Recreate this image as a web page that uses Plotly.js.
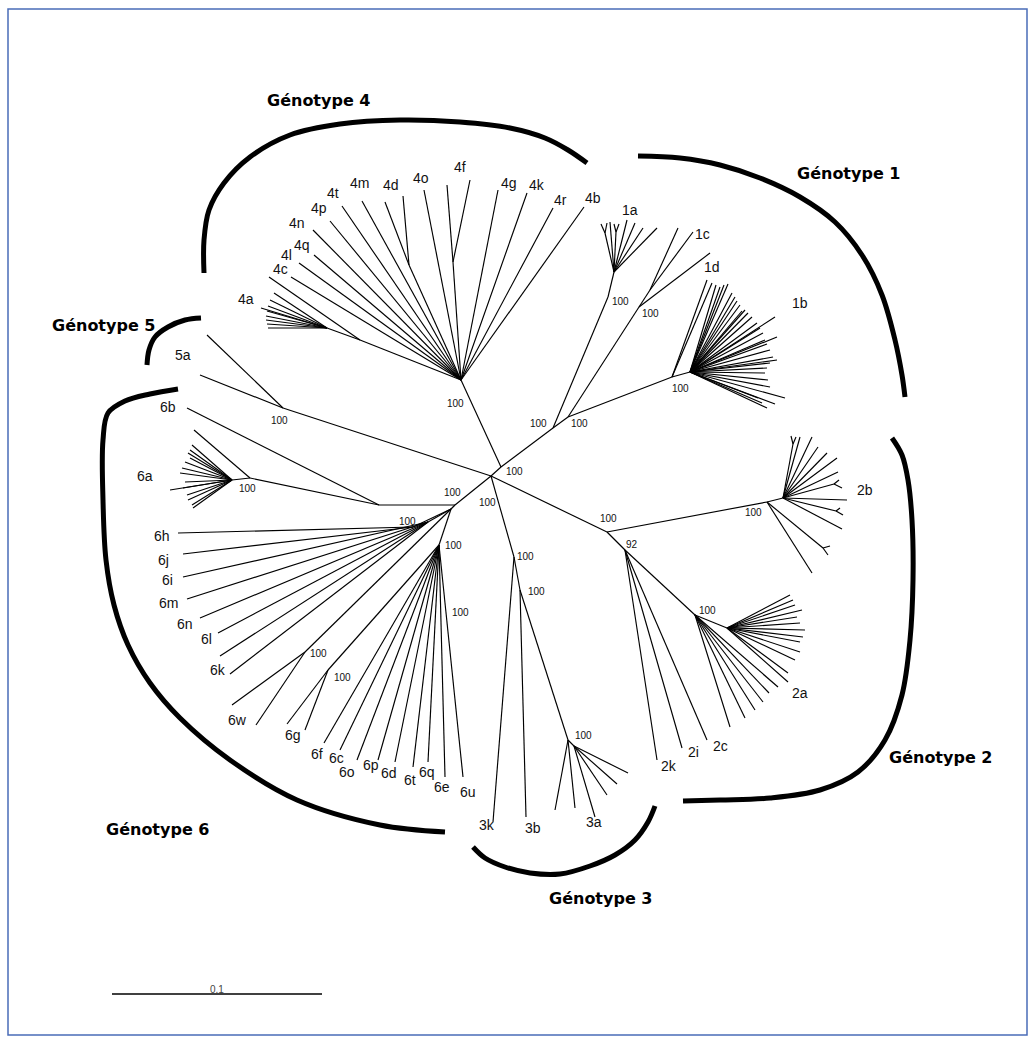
<!DOCTYPE html>
<html><head><meta charset="utf-8">
<script src="https://cdn.plot.ly/plotly-3.0.1.min.js"></script>
<style>html,body{margin:0;padding:0;background:#fff}#chart{width:1035px;height:1043px}</style>
</head><body><div id="chart"></div>
<script>
// ---- Internal nodes of the unrooted tree (layout coordinates)
const nodeName   = ['root','n14','g4','n4a','n4a2','n4d','n4f','g1','g1b','n1a','n1a2','f1a1','f1a2','n1cd','n1c','n1b','n1b2','n5','n6','n6ab','n6a','n6a2','n6hub','n6h','n6i','n6b2','n6w','n6g','n3','n3b','n3a','n3a2','n2','n2b','n2b2','f2b1','f2b2','f2b3','f2bx','n2ak','n2a','n2a2'];
const nodeParent = [null,'root','n14','g4','n4a','g4','g4','n14','g1','g1','n1a','n1a2','n1a2','g1b','n1cd','g1b','n1b','root','root','n6','n6ab','n6a','n6','n6hub','n6hub','n6hub','n6hub','n6b2','root','n3','n3b','n3a','root','n2','n2b','n2b2','n2b2','n2b2','n2b','n2','n2ak','n2a'];
const nodeX = [491,501,461,360,327,409,453,553,568,608,614,605,616,639,650,672,690,283,455,379,250,232,451,413,428,439,305,328,514,520,568,574,607,767,783,793,834,836,823,625,695,727];
const nodeY = [476,467,380,340,328,265,262,428,417,297,272,233,232,307,290,377,372,408,505,505,478,480,509,527,522,545,652,670,557,590,740,746,532,502,498,444,484,511,548,550,615,628];

// ---- Tips, grouped by the internal node they hang from ([x, y] pairs)
const tipsG4   = [[424,190],[362,201],[342,206],[330,221],[313,230],[314,255],[299,263],[291,277],[498,190],[527,193],[553,208],[584,207]];
const tips4f   = [[447,185],[470,180]];
const tips4d   = [[403,196],[385,202]];
const tips4a   = [[269,277]];
const tips4a2  = [[274,293],[270,300],[261,308],[268,306],[267,311],[266,316],[266,320],[267,324],[268,328]];
const tips1a   = [[610,222],[627,220],[635,223],[643,228],[657,228]];
const tips1aF1 = [[601,224],[607,223]];
const tips1aF2 = [[614,224],[619,224]];
const tips1c   = [[678,228],[693,232]];
const tips1cd  = [[710,253]];
const tips1d   = [[707,280],[712,283]];
const tips1b   = [[716,285],[720,287],[724,285],[728,284],[732,293],[735,297],[737,301],[740,305],[742,311],[745,310],[748,313],[752,317],[775,317],[757,323],[760,328],[763,333],[777,337],[765,340],[767,344],[770,350],[777,360],[773,357],[770,363],[767,368],[765,373],[768,380],[770,387],[785,398],[775,404],[767,408],[762,403],[758,398]];
const tips5    = [[207,335],[200,375]];
const tips6b   = [[187,408]];
const tips6a   = [[194,430]];
const tips6a2  = [[192,445],[190,450],[188,453],[190,458],[185,462],[182,468],[180,473],[170,490],[185,482],[183,488],[187,495],[188,500],[192,505],[193,508]];
const tips6h   = [[178,533],[183,554]];
const tips6i   = [[183,577],[187,599],[200,618],[218,633],[220,656],[230,674]];
const tips6w   = [[232,705],[256,725]];
const tips6g   = [[287,724],[305,730]];
const tips6c   = [[324,743],[340,750],[357,760],[378,760],[395,762],[413,767],[428,762],[445,777],[463,777]];
const tips3k   = [[493,822]];
const tips3b   = [[526,817]];
const tips3a   = [[555,810],[575,808]];
const tips3a2  = [[595,817],[607,795],[617,784],[628,773]];
const tips2bx  = [[812,573]];
const tips2bxF = [[828,555],[830,546]];
const tips2b   = [[800,437],[812,437],[818,447],[827,453],[837,458],[838,472],[847,500],[842,529]];
const tips2bF1 = [[791,436],[796,437]];
const tips2bF2 = [[839,480],[842,488]];
const tips2bF3 = [[840,508],[843,515]];
const tips2k   = [[657,760],[682,748],[707,740]];
const tips2a   = [[730,727],[745,718],[755,710],[763,702],[769,693],[778,687]];
const tips2a2  = [[788,682],[788,673],[795,660],[800,652],[800,642],[803,637],[805,630],[800,623],[797,617],[802,610],[795,605],[793,600],[790,595]];
const tipGroups = [['g4',tipsG4],['n4f',tips4f],['n4d',tips4d],['n4a',tips4a],['n4a2',tips4a2],['n1a2',tips1a],['f1a1',tips1aF1],['f1a2',tips1aF2],['n1c',tips1c],['n1cd',tips1cd],['n1b',tips1d],['n1b2',tips1b],['n5',tips5],['n6ab',tips6b],['n6a',tips6a],['n6a2',tips6a2],['n6h',tips6h],['n6i',tips6i],['n6w',tips6w],['n6g',tips6g],['n6b2',tips6c],['n3',tips3k],['n3b',tips3b],['n3a',tips3a],['n3a2',tips3a2],['n2b',tips2bx],['f2bx',tips2bxF],['n2b2',tips2b],['f2b1',tips2bF1],['f2b2',tips2bF2],['f2b3',tips2bF3],['n2ak',tips2k],['n2a',tips2a],['n2a2',tips2a2]];

// ---- Subtype labels
const leafText = ['4f','4o','4d','4m','4t','4p','4n','4q','4l','4c','4a','4g','4k','4r','4b','1a','1c','1d','1b','2b','2a','2c','2i','2k','3a','3b','3k','6u','6e','6q','6t','6d','6p','6o','6c','6f','6g','6w','6k','6l','6n','6m','6i','6j','6h','6a','6b','5a'];
const leafX = [460,421,391,359,333,319,297,302,286,280,246,509,537,560,593,630,702,712,800,865,800,720,693,669,594,533,487,468,442,427,410,389,371,347,336,317,293,237,218,206,185,168,167,163,162,145,168,183];
const leafY = [167,178,185,183,193,208,223,245,255,269,299,183,185,200,198,210,234,267,303,490,693,746,752,766,822,828,825,792,787,772,780,773,765,772,758,754,735,720,670,639,624,603,580,560,536,476,407,355];

// ---- Bootstrap values
const bootText = ['100','100','100','100','100','100','100','100','100','100','100','100','100','100','100','100','100','100','100','100','92','100','100'];
const bootX = [455,538,579,620,650,680,514,279,452,407,453,247,460,318,342,487,525,536,583,608,632,753,707];
const bootY = [403,423,423,301,313,388,471,420,492,521,545,488,612,653,677,502,556,591,735,518,544,512,610];

// ---- Genotype brackets and titles
const arcG4 = [[204,273],[204,240],[209,210],[224,183],[250,157],[290,135],[340,124],[400,120],[460,122],[510,128],[545,138],[568,150],[587,163]];
const arcG1 = [[638,156],[680,158],[720,165],[760,178],[800,197],[835,222],[862,255],[882,295],[895,340],[902,375],[905,397]];
const arcG2 = [[892,438],[902,455],[908,480],[912,520],[913,580],[910,640],[902,695],[885,740],[858,772],[820,790],[770,798],[720,800],[683,801]];
const arcG3 = [[473,847],[485,858],[505,867],[530,873],[560,874],[590,866],[615,855],[635,840],[648,822],[655,806]];
const arcG6 = [[178,389],[150,394],[125,401],[108,413],[103,440],[103,500],[106,560],[114,605],[128,645],[150,683],[180,718],[230,760],[297,800],[380,825],[445,832]];
const arcG5 = [[201,318],[185,320],[168,327],[155,337],[149,350],[147,365]];
const genoText = ['Génotype 4','Génotype 1','Génotype 5','Génotype 2','Génotype 6','Génotype 3'];
const genoX = [318,848,103,940,157,600];
const genoY = [100,173,325,757,829,898];

// ---- Scale bar
const scaleBar = [[112,994],[322,994]];
const scaleText = '0.1';

// ===== build =====
const pos = {};
nodeName.forEach((n,i)=>{pos[n]=[nodeX[i],nodeY[i]];});
const bx=[], by=[];
nodeName.forEach((n,i)=>{
  const p=nodeParent[i]; if(!p) return;
  bx.push(pos[p][0],nodeX[i],null); by.push(pos[p][1],nodeY[i],null);
});
tipGroups.forEach(([p,tips])=>{
  tips.forEach(t=>{bx.push(pos[p][0],t[0],null); by.push(pos[p][1],t[1],null);});
});

const traces=[{type:'scatter',mode:'lines',x:bx,y:by,line:{color:'#000',width:1.15},hoverinfo:'skip',showlegend:false}];
[arcG4,arcG1,arcG2,arcG3,arcG6,arcG5].forEach(a=>{
  traces.push({type:'scatter',mode:'lines',x:a.map(p=>p[0]),y:a.map(p=>p[1]),
    line:{color:'#000',width:5,shape:'spline',smoothing:1.0},hoverinfo:'skip',showlegend:false});
});
traces.push({type:'scatter',mode:'lines',x:scaleBar.map(p=>p[0]),y:scaleBar.map(p=>p[1]),line:{color:'#000',width:1.6},hoverinfo:'skip',showlegend:false});

const ann=[];
leafText.forEach((t,i)=>ann.push({x:leafX[i],y:leafY[i],text:t,showarrow:false,xanchor:'center',yanchor:'middle',font:{family:'Liberation Sans, Arial, sans-serif',size:14,color:'#111'}}));
bootText.forEach((t,i)=>ann.push({x:bootX[i],y:bootY[i],text:t,showarrow:false,xanchor:'center',yanchor:'middle',font:{family:'Liberation Sans, Arial, sans-serif',size:10,color:'#111'}}));
genoText.forEach((t,i)=>ann.push({x:genoX[i],y:genoY[i],text:'<b>'+t+'</b>',showarrow:false,xanchor:'center',yanchor:'middle',font:{family:'DejaVu Sans, Verdana, sans-serif',size:16,color:'#000'}}));
ann.push({x:217,y:989,text:scaleText,showarrow:false,xanchor:'center',yanchor:'middle',font:{family:'Liberation Sans, Arial, sans-serif',size:10,color:'#444'}});

const layout={width:1035,height:1043,margin:{l:0,r:0,t:0,b:0},paper_bgcolor:'#fff',plot_bgcolor:'#fff',
  xaxis:{range:[0,1035],visible:false,fixedrange:true},
  yaxis:{range:[1043,0],visible:false,fixedrange:true},
  annotations:ann,
  shapes:[{type:'rect',xref:'x',yref:'y',x0:8,y0:9,x1:1027,y1:1035,line:{color:'#4a6cb8',width:1.5}}]};
Plotly.newPlot('chart',traces,layout,{staticPlot:true,displayModeBar:false});
</script></body></html>
